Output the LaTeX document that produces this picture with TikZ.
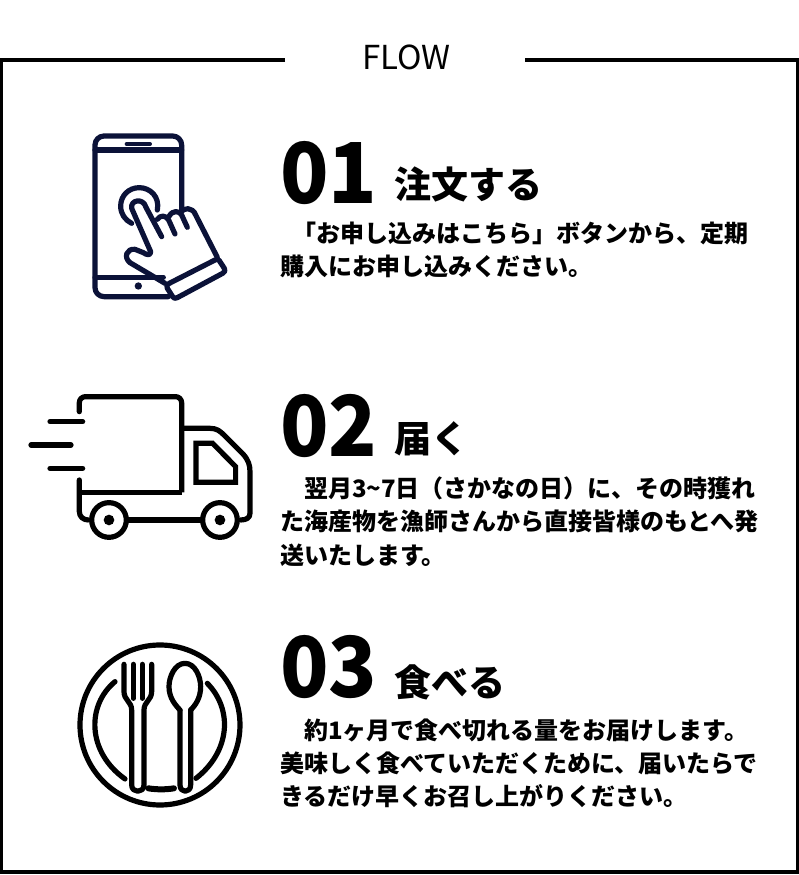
\documentclass[tikz,border=0pt]{standalone}
\usepackage{fontspec}
\setmainfont{Noto Sans CJK JP}
\newfontfamily\numfont{Noto Sans CJK JP Black}
\usepackage{tikz}
\definecolor{phoneblue}{HTML}{0B1238}
\tikzset{
  every node/.style={inner sep=0pt,outer sep=0pt,anchor=base west},
  frameline/.style={line width=3.4pt},
  stepnum/.style={font=\numfont\fontsize{84}{84}\selectfont,xscale=.95},
  steptitle/.style={font=\bfseries\fontsize{37}{37}\selectfont},
  bodyline/.style={font=\bfseries\fontsize{24}{24}\selectfont},
  icon/.style={line width=5.2pt,line cap=round,line join=round},
}
\begin{document}
\begin{tikzpicture}[x=1pt,y=-1pt]
  \useasboundingbox (0,0) rectangle (799,875);
  % frame
  \coordinate (fl) at (285,60);
  \coordinate (fr) at (525,60);
  \draw[frameline] (fl) -- (1.5,60) -- (1.5,872) -- (797.5,872) -- (797.5,60) -- (fr);
  \node[font=\fontsize{33}{33}\selectfont] (flow) at (362,70) {FLOW};
  % step 1
  \node[stepnum] (n1) at (280,203) {01};
  \node[steptitle] (t1) at (394,198) {注文する};
  \node[bodyline] (b11) at (292,242) {「お申し込みはこちら」ボタンから、定期};
  \node[bodyline] (b12) at (280,275) {購入にお申し込みください。};
  % step 2
  \node[stepnum] (n2) at (280,456) {02};
  \node[steptitle] (t2) at (394,452) {届く};
  \node[bodyline] (b21) at (304,497) {翌月3\textasciitilde7日（さかなの日）に、その時獲れ};
  \node[bodyline] (b22) at (280,530) {た海産物を漁師さんから直接皆様のもとへ発};
  \node[bodyline] (b23) at (280,564) {送いたします。};
  % step 3
  \node[stepnum] (n3) at (280,697) {03};
  \node[steptitle] (t3) at (394,696) {食べる};
  \node[bodyline] (b31) at (304,739) {約1ヶ月で食べ切れる量をお届けします。};
  \node[bodyline] (b32) at (280,772) {美味しく食べていただくために、届いたらで};
  \node[bodyline] (b33) at (280,805) {きるだけ早くお召し上がりください。};
  % phone
  \begin{scope}[shift={(80,120)},x=.3333pt,y=-.3333pt,icon,draw=phoneblue]
    \draw[rounded corners=9pt] (305,270) -- (305,48) -- (45,48) -- (45,530) -- (265,530);
    \draw (45,90) -- (305,90);
    \draw (45,472) -- (250,472);
    \draw[line width=4pt] (140,72) -- (210,72);
    \fill[phoneblue] (175,498) circle (11);
    % circle round the fingertip
    \draw (232,270) .. controls (240,230) and (210,203) .. (178,203)
      .. controls (145,203) and (122,228) .. (122,258) .. controls (122,282) and (135,300) .. (155,310);
    % hand
    \draw (155,265) .. controls (150,240) and (190,232) .. (198,262) -- (245,350)
      (155,265) -- (212,395) .. controls (212,408) and (200,405) .. (190,398) -- (165,388)
      .. controls (140,385) and (130,412) .. (150,428) -- (255,490);
    \draw (232,298) .. controls (240,285) and (258,285) .. (266,300) -- (285,342);
    \draw (268,288) .. controls (278,270) and (298,272) .. (305,285) -- (322,322);
    \draw (302,278) .. controls (310,262) and (338,260) .. (347,285) -- (412,412);
    % cuff
    \draw (268,490) -- (405,420) .. controls (412,416) and (415,418) .. (418,422) -- (433,445)
      .. controls (437,452) and (435,456) .. (428,460) -- (292,533)
      .. controls (285,537) and (282,535) .. (278,530) -- (262,505) .. controls (258,498) and (260,494) .. (268,490);
  \end{scope}
  % truck
  \begin{scope}[shift={(20,385)},x=.3333pt,y=-.3333pt,icon]
    \draw[rounded corners=6pt,line cap=butt] (178,80) -- (178,35) -- (485,35) -- (485,322);
    \fill (178,80) circle (7.8);
    \draw[line cap=butt] (485,322) -- (178,322);
    \draw (178,285) -- (178,380) .. controls (178,395) and (190,405) .. (205,405);
    \draw (490,130) -- (570,130) .. controls (590,130) and (600,138) .. (612,150) -- (670,208)
      .. controls (685,225) and (690,240) .. (690,260) -- (690,385) .. controls (690,398) and (680,405) .. (662,405);
    \draw (325,405) -- (545,405);
    \draw[miter limit=3,line join=miter] (528,175) -- (578,175) -- (647,245) -- (647,292) -- (528,292) -- cycle;
    \draw (90,110) -- (188,110) (33,180) -- (153,180) (90,250) -- (188,250);
    \foreach \wx in {267,600} {
      \draw (\wx,405) circle (52);
      \fill (\wx,405) circle (16);
    }
  \end{scope}
  % plate
  \begin{scope}[shift={(70,635)},x=.3333pt,y=-.3333pt,icon]
    \draw (270,270) circle (240);
    \draw (135,140) .. controls (50,210) and (50,350) .. (165,432);
    \draw (412,145) .. controls (490,225) and (480,350) .. (378,430);
    \draw[line width=6pt] (235,460) .. controls (260,464) and (288,464) .. (312,460);
    % fork
    \draw (162,88) -- (162,170) .. controls (162,195) and (185,200) .. (185,225) -- (185,450)
      .. controls (185,475) and (222,475) .. (222,450) -- (222,225) .. controls (222,200) and (245,195) .. (245,170) -- (245,88);
    \draw (190,88) -- (190,190) (217,88) -- (217,190);
    % spoon
    \draw (330,225) -- (330,450) .. controls (330,475) and (362,475) .. (362,450) -- (362,225);
    \draw (345,85) .. controls (315,85) and (297,125) .. (297,155) .. controls (297,190) and (318,212) .. (330,225)
      (362,225) .. controls (375,212) and (392,190) .. (392,155) .. controls (392,125) and (375,85) .. (345,85);
  \end{scope}
\end{tikzpicture}
\end{document}
